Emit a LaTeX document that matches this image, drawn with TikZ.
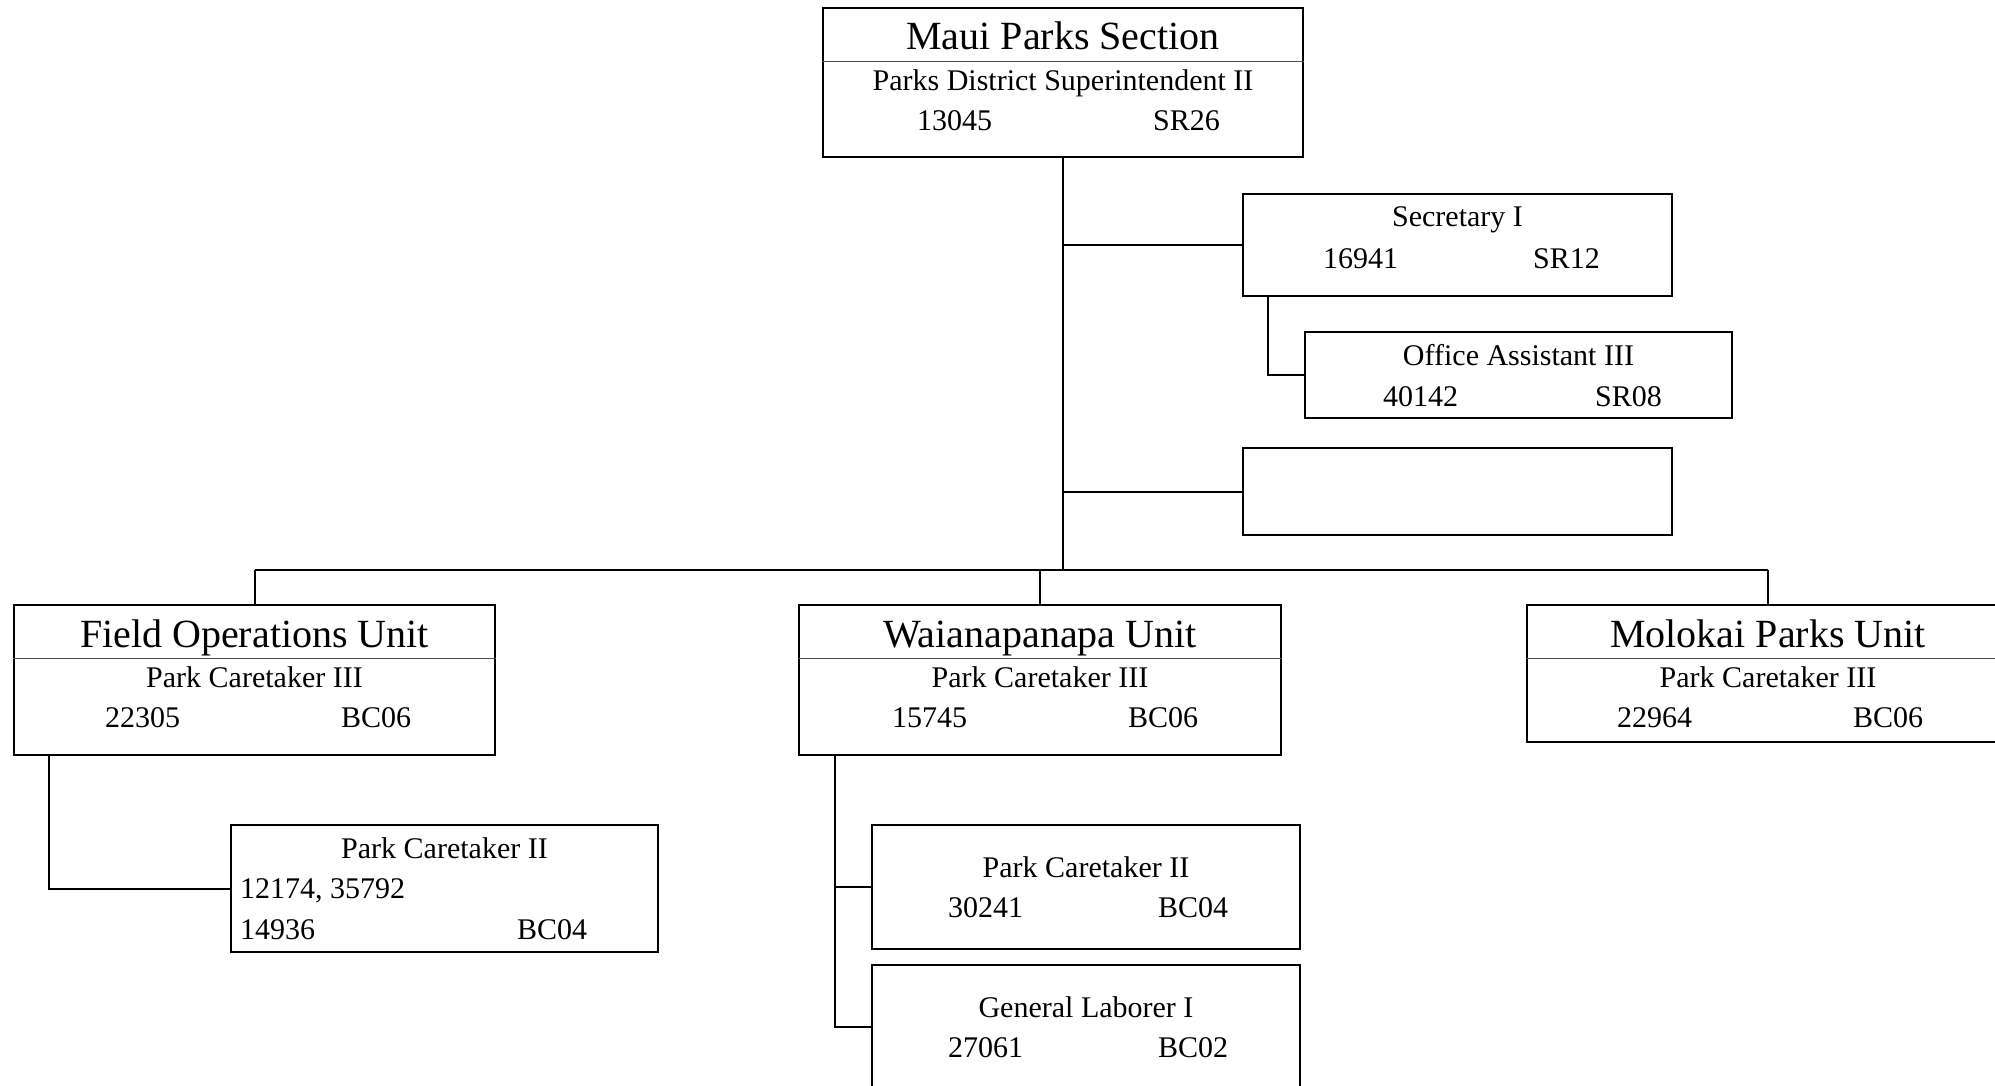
\documentclass[tikz,border=0pt]{standalone}
\usepackage{fontspec}
\setmainfont{Liberation Serif}
\begin{document}
\begin{tikzpicture}[x=1pt,y=-1pt,
  box/.style={draw=black,line width=2pt,rectangle,inner sep=0pt,fill=white},
  conn/.style={draw=black,line width=2pt},
  divider/.style={draw=black!70,line width=1pt},
  ttl/.style={inner sep=0pt,anchor=base,font=\fontsize{40}{40}\selectfont},
  txt/.style={inner sep=0pt,anchor=base,font=\fontsize{30}{30}\selectfont},
  txtl/.style={inner sep=0pt,anchor=base west,font=\fontsize{30}{30}\selectfont}]
\clip (0,0) rectangle (1995,1086);
\fill[white] (0,0) rectangle (1995,1086);

% bus coordinates
\coordinate (bus) at (1063,570);
\coordinate (busL) at (254.5,570);
\coordinate (busR) at (1768,570);
\coordinate (busW) at (1040,570);

% boxes
\node[box,minimum width=480pt,minimum height=149pt] (top) at (1063,82.5) {};
\node[box,minimum width=429pt,minimum height=102pt] (sec) at (1457.5,245) {};
\node[box,minimum width=427pt,minimum height=86pt] (oa) at (1518.5,375) {};
\node[box,minimum width=429pt,minimum height=87pt] (empty) at (1457.5,491.5) {};
\node[box,minimum width=481pt,minimum height=150pt] (fo) at (254.5,680) {};
\node[box,minimum width=482pt,minimum height=150pt] (wai) at (1040,680) {};
\node[box,minimum width=482pt,minimum height=137pt] (mol) at (1768,673.5) {};
\node[box,minimum width=427pt,minimum height=127pt] (fpc) at (444.5,888.5) {};
\node[box,minimum width=428pt,minimum height=124pt] (wpc) at (1086,887) {};
\node[box,minimum width=428pt,minimum height=124pt] (gl) at (1086,1027) {};

% dividers
\draw[divider] (top.west |- 0,62) -- (top.east |- 0,62);
\draw[divider] (fo.west |- 0,658) -- (fo.east |- 0,658);
\draw[divider] (wai.west |- 0,658) -- (wai.east |- 0,658);
\draw[divider] (mol.west |- 0,658) -- (mol.east |- 0,658);

% connectors
\draw[conn] (top.south) -- (bus);
\draw[conn] (top.south |- sec.west) -- (sec.west);
\draw[conn] (top.south |- empty.west) -- (empty.west);
\draw[conn] (busL) -- (busR);
\draw[conn] (busL) -- (fo.north);
\draw[conn] (busW) -- (wai.north);
\draw[conn] (busR) -- (mol.north);
\draw[conn] (sec.south west) ++(26,0) coordinate (sd) -- (sd |- oa.west) -- (oa.west);
\draw[conn] (fo.south west) ++(36,0) coordinate (fd) -- (fd |- fpc.west) -- (fpc.west);
\draw[conn] (wai.south west) ++(37,0) coordinate (wd) -- (wd |- gl.west) -- (gl.west);
\draw[conn] (wd |- wpc.west) -- (wpc.west);

% texts: top
\node[ttl] (topT) at (1063,50) {Maui Parks Section};
\node[txt] (topS) at (1063,91) {Parks District Superintendent II};
\node[txtl] (topN) at (917,131) {13045};
\node[txtl] (topG) at (1153,131) {SR26};
% secretary
\node[txt] (secS) at (1457.5,227) {Secretary I};
\node[txtl] (secN) at (1323,269) {16941};
\node[txtl] (secG) at (1533,269) {SR12};
% office assistant
\node[txt] (oaS) at (1518.5,365) {Office Assistant III};
\node[txtl] (oaN) at (1383,406) {40142};
\node[txtl] (oaG) at (1595,406) {SR08};
% field ops
\node[ttl] (foT) at (254.5,647) {Field Operations Unit};
\node[txt] (foS) at (254.5,687) {Park Caretaker III};
\node[txtl] (foN) at (105,727) {22305};
\node[txtl] (foG) at (341,727) {BC06};
% waianapanapa
\node[ttl] (waiT) at (1040,647) {Waianapanapa Unit};
\node[txt] (waiS) at (1040,687) {Park Caretaker III};
\node[txtl] (waiN) at (892,727) {15745};
\node[txtl] (waiG) at (1128,727) {BC06};
% molokai
\node[ttl] (molT) at (1768,647) {Molokai Parks Unit};
\node[txt] (molS) at (1768,687) {Park Caretaker III};
\node[txtl] (molN) at (1617,727) {22964};
\node[txtl] (molG) at (1853,727) {BC06};
% field park caretaker II
\node[txt] (fpcS) at (444.5,858) {Park Caretaker II};
\node[txtl] (fpcN1) at (240,898) {12174, 35792};
\node[txtl] (fpcN2) at (240,939) {14936};
\node[txtl] (fpcG) at (517,939) {BC04};
% wai park caretaker II
\node[txt] (wpcS) at (1086,877) {Park Caretaker II};
\node[txtl] (wpcN) at (948,917) {30241};
\node[txtl] (wpcG) at (1158,917) {BC04};
% general laborer
\node[txt] (glS) at (1086,1017) {General Laborer I};
\node[txtl] (glN) at (948,1057) {27061};
\node[txtl] (glG) at (1158,1057) {BC02};
\end{tikzpicture}
\end{document}
